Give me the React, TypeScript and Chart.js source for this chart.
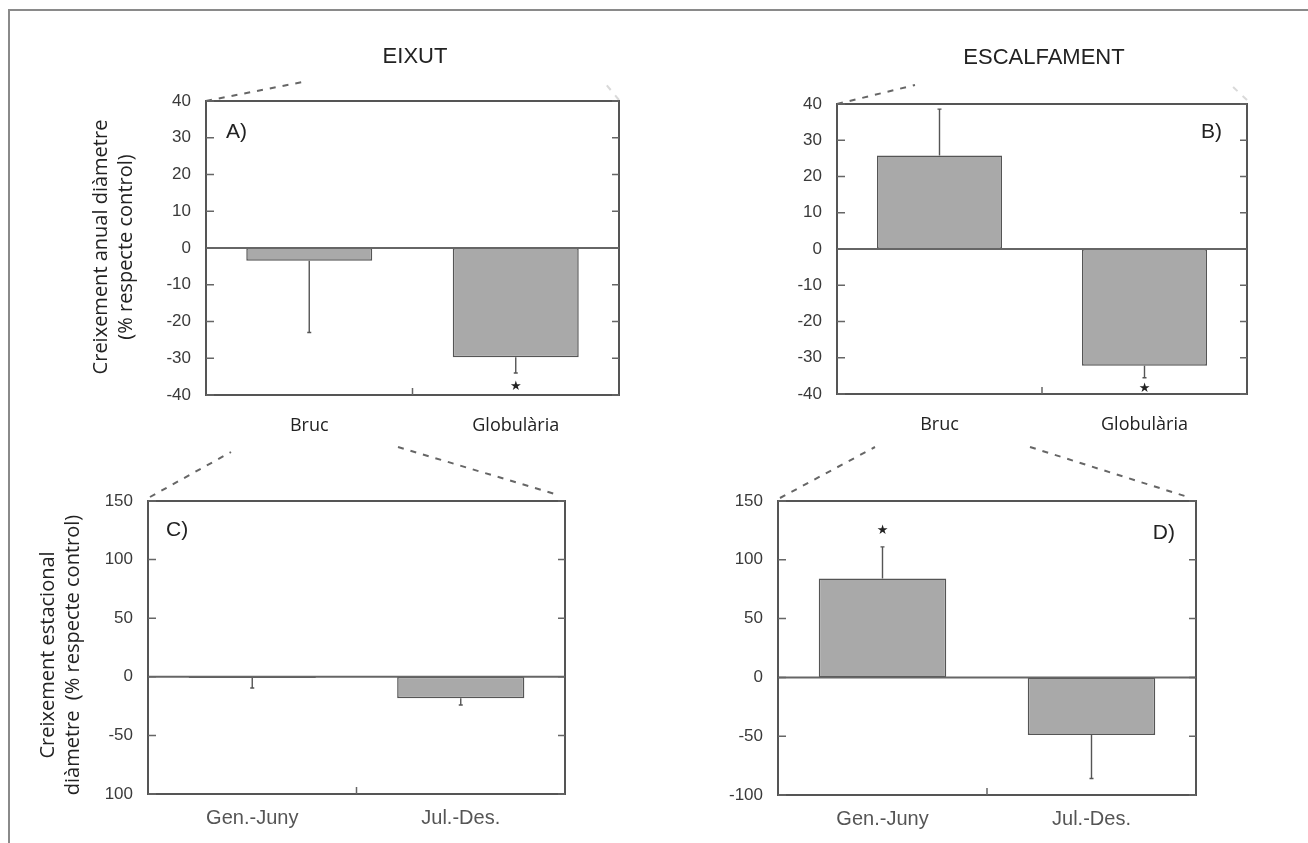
import React, { useEffect, useRef } from "react";
import { Chart, registerables } from "chart.js";

Chart.register(...registerables);

// ---------- data ----------
const annualGroups = ["Bruc", "Globulària"];
const seasonGroups = ["Gen.-Juny", "Jul.-Des."];

const eixutAnnual = [-3.5, -29.7];
const eixutAnnualErr = [-23, -34];
const eixutAnnualStar: (number | null)[] = [null, -37.8];

const escalfAnnual = [25.8, -32.2];
const escalfAnnualErr = [38.6, -35.5];
const escalfAnnualStar: (number | null)[] = [null, -38.5];

const eixutSeasonal = [-1, -18.4];
const eixutSeasonalErr = [-9.5, -24];
const eixutSeasonalStar: (number | null)[] = [null, null];

const escalfSeasonal = [84, -49];
const escalfSeasonalErr = [111, -86];
const escalfSeasonalStar: (number | null)[] = [125, null];

const annualTicks = [-40, -30, -20, -10, 0, 10, 20, 30, 40];
const annualTickLabels = ["-40", "-30", "-20", "-10", "0", "10", "20", "30", "40"];
const seasonalTicks = [-100, -50, 0, 50, 100, 150];
const seasonalTickLabelsC = ["100", "-50", "0", "50", "100", "150"];
const seasonalTickLabelsD = ["-100", "-50", "0", "50", "100", "150"];

const titleLeft = "EIXUT";
const titleRight = "ESCALFAMENT";
const yTitleAnnual = ["Creixement anual diàmetre", "(% respecte control)"];
const yTitleSeasonal = ["Creixement estacional", "diàmetre  (% respecte control)"];

// ---------- layout ----------
type Seg = [number, number, number, number, number];
type PanelCfg = {
  x: number; y: number; w: number; h: number;
  pad: { left: number; right: number; top: number; bottom: number };
  labels: string[]; values: number[]; err: number[]; stars: (number | null)[];
  ticks: number[]; tickLabels: string[]; step: number;
  letter: string; letterRight: boolean; letterDx: number; letterDy: number;
  title?: string; titleX?: number; titleY?: number;
  yTitle?: string[]; yTitleX?: number[]; yTitleY?: number;
  dashes: Seg[];
  xFont: any; xColor: string; xPad: number;
};

const Y_W = 60;
const X_H = 40;

const panels: PanelCfg[] = [
  {
    x: 0, y: 0, w: 654, h: 440,
    pad: { left: 206 - Y_W, right: 654 - 619, top: 101, bottom: 440 - 395 - X_H },
    labels: annualGroups, values: eixutAnnual, err: eixutAnnualErr, stars: eixutAnnualStar,
    ticks: annualTicks, tickLabels: annualTickLabels, step: 10,
    letter: "A)", letterRight: false, letterDx: 20, letterDy: 31,
    title: titleLeft, titleX: 415, titleY: 57,
    yTitle: yTitleAnnual, yTitleX: [101, 126], yTitleY: 247,
    dashes: [[206, 101, 303, 82, 1], [619, 100, 604, 82, 0.25]],
    xFont: { family: "'Open Sans', sans-serif", size: 18 }, xColor: "#222", xPad: 20,
  },
  {
    x: 654, y: 0, w: 654, h: 440,
    pad: { left: 183 - Y_W, right: 654 - 593, top: 104, bottom: 440 - 394 - X_H },
    labels: annualGroups, values: escalfAnnual, err: escalfAnnualErr, stars: escalfAnnualStar,
    ticks: annualTicks, tickLabels: annualTickLabels, step: 10,
    letter: "B)", letterRight: true, letterDx: 25, letterDy: 28,
    title: titleRight, titleX: 390, titleY: 58,
    dashes: [[183, 104, 261, 85, 1], [593, 100, 578, 86, 0.25]],
    xFont: { family: "'Open Sans', sans-serif", size: 18 }, xColor: "#222", xPad: 20,
  },
  {
    x: 0, y: 440, w: 654, h: 403,
    pad: { left: 148 - Y_W, right: 654 - 565, top: 61, bottom: 403 - 354 - X_H },
    labels: seasonGroups, values: eixutSeasonal, err: eixutSeasonalErr, stars: eixutSeasonalStar,
    ticks: seasonalTicks, tickLabels: seasonalTickLabelsC, step: 50,
    letter: "C)", letterRight: false, letterDx: 18, letterDy: 29,
    yTitle: yTitleSeasonal, yTitleX: [48, 73], yTitleY: 215,
    dashes: [[150, 57, 231, 12, 1], [398, 7, 555, 54, 1]],
    xFont: { family: "'Liberation Sans', Arial, sans-serif", size: 20 }, xColor: "#555", xPad: 12,
  },
  {
    x: 654, y: 440, w: 654, h: 403,
    pad: { left: 124 - Y_W, right: 654 - 542, top: 61, bottom: 403 - 355 - X_H },
    labels: seasonGroups, values: escalfSeasonal, err: escalfSeasonalErr, stars: escalfSeasonalStar,
    ticks: seasonalTicks, tickLabels: seasonalTickLabelsD, step: 50,
    letter: "D)", letterRight: true, letterDx: 21, letterDy: 32,
    dashes: [[126, 58, 221, 7, 1], [376, 7, 537, 58, 1]],
    xFont: { family: "'Liberation Sans', Arial, sans-serif", size: 20 }, xColor: "#555", xPad: 12,
  },
];

function makeDecor(cfg: PanelCfg) {
  return {
    id: "decor",
    afterDatasetsDraw(chart: any) {
      const ctx = chart.ctx as CanvasRenderingContext2D;
      const a = chart.chartArea;
      const xs = chart.scales.x;
      const ys = chart.scales.y;
      ctx.save();
      // error bars
      ctx.strokeStyle = "#555";
      ctx.lineWidth = 1.4;
      cfg.values.forEach((v, i) => {
        const x = xs.getPixelForValue(i);
        const y0 = ys.getPixelForValue(v);
        const y1 = ys.getPixelForValue(cfg.err[i]);
        ctx.beginPath();
        ctx.moveTo(x, y0);
        ctx.lineTo(x, y1);
        ctx.moveTo(x - 2, y1);
        ctx.lineTo(x + 2, y1);
        ctx.stroke();
      });
      // stars
      ctx.fillStyle = "#222";
      ctx.font = "13px 'DejaVu Sans', sans-serif";
      ctx.textAlign = "center";
      ctx.textBaseline = "middle";
      cfg.stars.forEach((s, i) => {
        if (s === null || s === undefined) return;
        ctx.fillText("★", xs.getPixelForValue(i), ys.getPixelForValue(s));
      });
      // zero line
      const yz = ys.getPixelForValue(0);
      ctx.strokeStyle = "#666";
      ctx.lineWidth = 2;
      ctx.beginPath();
      ctx.moveTo(a.left, yz);
      ctx.lineTo(a.right, yz);
      ctx.stroke();
      // frame
      ctx.strokeStyle = "#555";
      ctx.lineWidth = 2;
      ctx.strokeRect(a.left, a.top, a.right - a.left, a.bottom - a.top);
      // inward ticks
      ctx.lineWidth = 1.5;
      ctx.strokeStyle = "#666";
      cfg.ticks.forEach((t) => {
        const y = ys.getPixelForValue(t);
        ctx.beginPath();
        ctx.moveTo(a.left, y);
        ctx.lineTo(a.left + 8, y);
        ctx.moveTo(a.right, y);
        ctx.lineTo(a.right - 7, y);
        ctx.stroke();
      });
      const xm = (a.left + a.right) / 2;
      ctx.beginPath();
      ctx.moveTo(xm, a.bottom);
      ctx.lineTo(xm, a.bottom - 7);
      ctx.stroke();
      // panel letter
      ctx.fillStyle = "#222";
      ctx.font = "21px 'Liberation Sans', Arial, sans-serif";
      ctx.textBaseline = "middle";
      if (cfg.letterRight) {
        ctx.textAlign = "right";
        ctx.fillText(cfg.letter, a.right - cfg.letterDx, a.top + cfg.letterDy);
      } else {
        ctx.textAlign = "left";
        ctx.fillText(cfg.letter, a.left + cfg.letterDx, a.top + cfg.letterDy);
      }
      // title
      if (cfg.title) {
        ctx.textAlign = "center";
        ctx.font = "22px 'Liberation Sans', Arial, sans-serif";
        ctx.fillText(cfg.title, cfg.titleX!, cfg.titleY!);
      }
      // y title
      if (cfg.yTitle) {
        ctx.fillStyle = "#222";
        ctx.font = "20px 'Open Sans', sans-serif";
        ctx.textAlign = "center";
        ctx.textBaseline = "middle";
        cfg.yTitle.forEach((line, i) => {
          ctx.save();
          ctx.translate(cfg.yTitleX![i], cfg.yTitleY!);
          ctx.rotate(-Math.PI / 2);
          ctx.fillText(line, 0, 0);
          ctx.restore();
        });
      }
      // dashed zoom lines
      ctx.lineWidth = 2;
      ctx.setLineDash([6, 7]);
      cfg.dashes.forEach(([x1, y1, x2, y2, al]) => {
        ctx.globalAlpha = al;
        ctx.strokeStyle = "#666";
        ctx.beginPath();
        ctx.moveTo(x1, y1);
        ctx.lineTo(x2, y2);
        ctx.stroke();
      });
      ctx.restore();
    },
  };
}

function PanelChart({ cfg }: { cfg: PanelCfg }) {
  const ref = useRef<HTMLCanvasElement | null>(null);
  useEffect(() => {
    if (!ref.current) return;
    const min = cfg.ticks[0];
    const max = cfg.ticks[cfg.ticks.length - 1];
    const chart = new Chart(ref.current, {
      type: "bar",
      data: {
        labels: cfg.labels,
        datasets: [
          {
            data: cfg.values,
            backgroundColor: "#a9a9a9",
            borderColor: "#555",
            borderWidth: 1.5,
            borderSkipped: false,
            barPercentage: 0.61,
            categoryPercentage: 1,
          },
        ],
      },
      options: {
        animation: false,
        responsive: false,
        devicePixelRatio: 1,
        layout: { padding: cfg.pad },
        plugins: {
          legend: { display: false },
          tooltip: { enabled: false },
          title: { display: false },
        },
        scales: {
          x: {
            type: "category",
            grid: { display: false, drawTicks: false },
            border: { display: false },
            ticks: { font: cfg.xFont, color: cfg.xColor, padding: cfg.xPad, maxRotation: 0 },
            afterFit: (s: any) => {
              s.height = X_H;
            },
          },
          y: {
            min,
            max,
            grid: { display: false, drawTicks: false },
            border: { display: false },
            ticks: {
              stepSize: cfg.step,
              padding: 15,
              color: "#3a3a3a",
              font: { family: "'Liberation Sans', Arial, sans-serif", size: 17 },
              callback: (v: any) => {
                const k = cfg.ticks.indexOf(Number(v));
                return k >= 0 ? cfg.tickLabels[k] : "";
              },
            },
            afterFit: (s: any) => {
              s.width = Y_W;
            },
          },
        },
      },
      plugins: [makeDecor(cfg)],
    } as any);
    return () => chart.destroy();
  }, [cfg]);
  return (
    <canvas
      ref={ref}
      width={cfg.w}
      height={cfg.h}
      style={{ position: "absolute", left: cfg.x, top: cfg.y, width: cfg.w, height: cfg.h }}
    />
  );
}

export default function App() {
  return (
    <div style={{ position: "absolute", left: 0, top: 0, width: 1308, height: 843, background: "#fff", overflow: "hidden" }}>
      {panels.map((p, i) => (
        <PanelChart key={i} cfg={p} />
      ))}
      <div style={{ position: "absolute", left: 8, top: 9, width: 1300, height: 2, background: "#8a8a8a" }} />
      <div style={{ position: "absolute", left: 8, top: 9, width: 2, height: 834, background: "#8a8a8a" }} />
    </div>
  );
}
